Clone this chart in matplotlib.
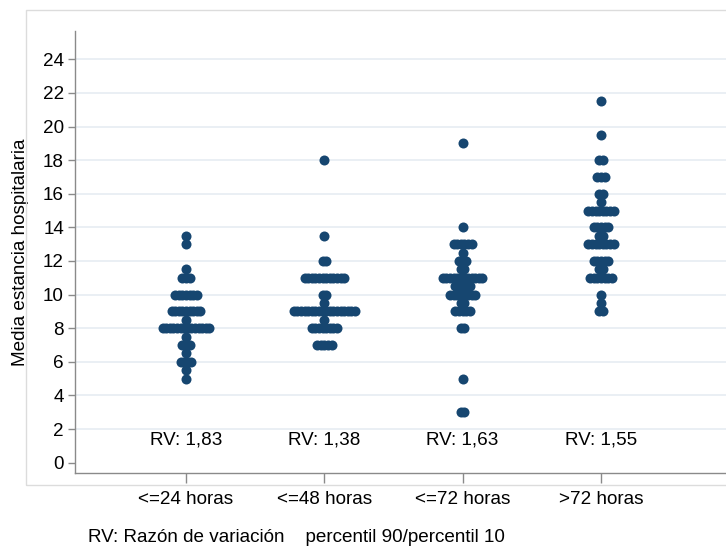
import numpy as np
import matplotlib.pyplot as plt
from matplotlib.patches import Rectangle

plt.rcParams['font.family'] = ['Liberation Sans', 'DejaVu Sans']

groups = ['<=24 horas', '<=48 horas', '<=72 horas', '>72 horas']
rv_labels = ['RV: 1,83', 'RV: 1,38', 'RV: 1,63', 'RV: 1,55']

# mean hospital stay per centre: value and number of centres with that value
g1_vals = [5, 5.5, 6, 6.5, 7, 7.5, 8, 8.5, 9, 10, 11, 11.5, 13, 13.5]
g1_cnt = [1, 1, 4, 1, 3, 1, 14, 1, 9, 7, 3, 1, 1, 1]
g2_vals = [7, 8, 8.5, 9, 9.5, 10, 11, 12, 13.5, 18]
g2_cnt = [5, 8, 1, 18, 1, 2, 12, 2, 1, 1]
g3_vals = [3, 5, 8, 9, 9.5, 10, 10.5, 11, 11.5, 12, 12.5, 13, 14, 19]
g3_cnt = [2, 1, 2, 5, 2, 8, 5, 12, 2, 3, 1, 6, 1, 1]
g4_vals = [9, 9.5, 10, 11, 11.5, 12, 13, 13.5, 14, 15, 15.5, 16, 17, 18, 19.5, 21.5]
g4_cnt = [2, 1, 1, 7, 2, 5, 8, 2, 5, 8, 1, 2, 3, 2, 1, 1]

all_vals = [g1_vals, g2_vals, g3_vals, g4_vals]
all_cnt = [g1_cnt, g2_cnt, g3_cnt, g4_cnt]

dot_color = '#164670'
step = 0.026  # horizontal spacing between stacked dots
fs = 13.6

fig = plt.figure(figsize=(7.26, 5.49), dpi=100)
ax = fig.add_axes([75 / 726, 76 / 549, 651 / 726, 442.3 / 549])
ax.set_xlim(0.197, 4.904)
ax.set_ylim(-0.613, 25.7)

for y in range(2, 25, 2):
    ax.axhline(y, color='#e8eef3', lw=1.3, zorder=0)

for i, (vals, cnt) in enumerate(zip(all_vals, all_cnt)):
    xs, ys = [], []
    for v, n in zip(vals, cnt):
        xs.extend(i + 1 + (np.arange(n) - (n - 1) / 2) * step)
        ys.extend([v] * n)
    ax.scatter(xs, ys, s=52, color=dot_color, linewidths=0, zorder=3)
    ax.text(i + 1, 1.35, rv_labels[i], ha='center', va='center', fontsize=fs)

for s in ['top', 'right']:
    ax.spines[s].set_visible(False)
for s in ['left', 'bottom']:
    ax.spines[s].set_color('#8a8a8a')
    ax.spines[s].set_linewidth(1)

ax.set_yticks(range(0, 25, 2))
ax.set_xticks(range(1, 5))
ax.set_xticklabels(groups)
ax.tick_params(axis='both', colors='#8a8a8a', labelcolor='black', length=5,
               width=1, labelsize=fs)
ax.tick_params(axis='x', length=7, pad=6)
ax.tick_params(axis='y', pad=3)

ax.set_ylabel('Media estancia hospitalaria', fontsize=fs)
ax.yaxis.set_label_coords(-0.071, 0.5)

fig.text(88 / 726, 1 - 537 / 549, 'RV: Razón de variación    percentil 90/percentil 10',
         ha='left', va='center', fontsize=fs)

# light outer frame around the plot region
fig.add_artist(Rectangle((26 / 726, 64 / 549), 1, 475 / 549, transform=fig.transFigure,
                         fill=False, edgecolor='#dcdcdc', lw=1))

fig.savefig('out.png', dpi=100)
